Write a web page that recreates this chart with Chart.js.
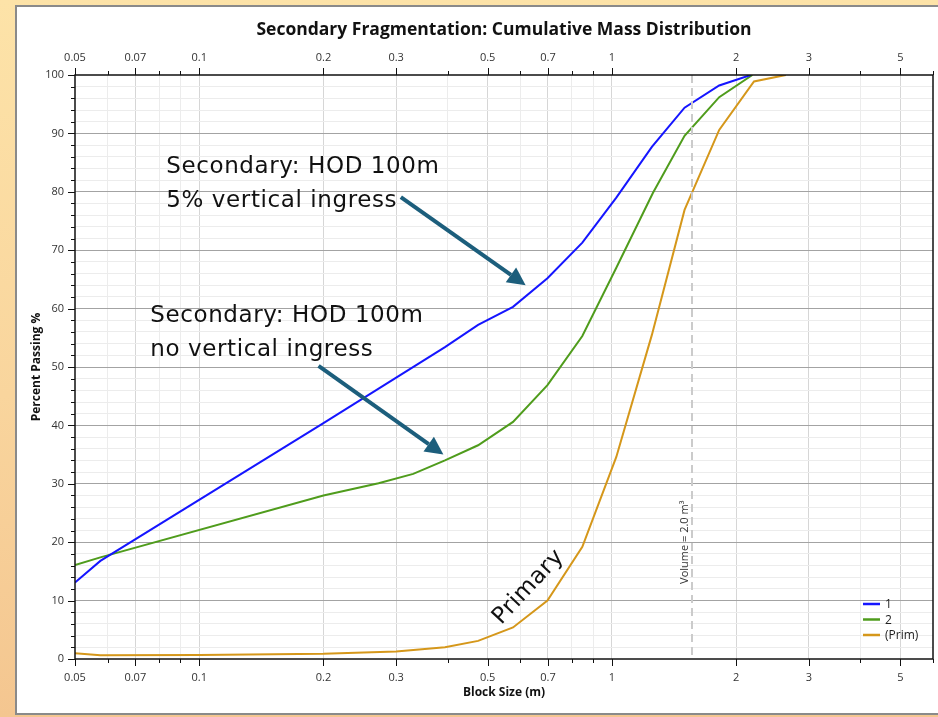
<!DOCTYPE html>
<html>
<head>
<meta charset="utf-8">
<title>Secondary Fragmentation</title>
<script src="https://cdn.jsdelivr.net/npm/chart.js@4.4.0/dist/chart.umd.min.js"></script>
<style>
  html, body { margin: 0; padding: 0; }
  body {
    width: 938px; height: 717px; overflow: hidden; position: relative;
    background: linear-gradient(180deg, #fde3a8 0%, #f9d59d 55%, #f4c690 100%);
  }
  #panel {
    position: absolute; left: 15px; top: 5px; width: 940px; height: 706px;
    background: #fff; border: 2px solid #8a8a8a;
  }
  #wrap { position: absolute; left: 0; top: 0; width: 938px; height: 717px; }
</style>
</head>
<body>
<div id="panel"></div>
<div id="wrap"><canvas id="fragChart"></canvas></div>
<script>
const FONT = "'Open Sans', sans-serif";
const NOTE_FONT = "'DejaVu Sans', sans-serif";

const TITLE = "Secondary Fragmentation: Cumulative Mass Distribution";

// block size (m) / percent passing for each curve
const sizes1 = [0.05, 0.0576, 0.2, 0.394, 0.474, 0.576, 0.698, 0.848, 1.025, 1.25, 1.5, 1.82, 2.17];
const passing1 = [13.1, 16.8, 40.4, 53.4, 57.2, 60.3, 65.2, 71.3, 79.0, 87.7, 94.4, 98.2, 100];

const sizes2 = [0.05, 0.0576, 0.2, 0.272, 0.33, 0.394, 0.474, 0.576, 0.698, 0.848, 1.025, 1.257, 1.5, 1.82, 2.19];
const passing2 = [16.1, 17.4, 28.0, 30.1, 31.7, 34.0, 36.6, 40.6, 46.9, 55.3, 67.0, 79.8, 89.6, 96.2, 100];

const sizesPrim = [0.05, 0.0576, 0.1, 0.2, 0.3, 0.394, 0.474, 0.576, 0.698, 0.848, 1.025, 1.25, 1.5, 1.82, 2.21, 2.64];
const passingPrim = [1.0, 0.65, 0.7, 0.9, 1.3, 2.0, 3.1, 5.4, 10.0, 19.2, 34.6, 55.5, 76.9, 90.6, 98.9, 100];

const seriesNames = ["1", "2", "(Prim)"];
const seriesColors = ["#1515ff", "#4f9c1c", "#d5971a"];

// axis ticks
const xTicks = [0.05, 0.06, 0.07, 0.08, 0.09, 0.1, 0.2, 0.3, 0.4, 0.5, 0.6, 0.7, 0.8, 0.9, 1, 2, 3, 4, 5, 6];
const xLabels = [0.05, 0.07, 0.1, 0.2, 0.3, 0.5, 0.7, 1, 2, 3, 5];

// equivalent sphere diameter of a 2.0 m3 block
const volumeSize = 1.563;

const toPoints = (xs, ys) => xs.map((v, i) => ({ x: v, y: ys[i] }));

const makeX = (position, height) => ({
  type: "logarithmic",
  position: position,
  min: 0.05,
  max: 6,
  afterBuildTicks: (s) => { s.ticks = xTicks.map(v => ({ value: v })); },
  // fixed band height, and no extra side padding for the end labels
  afterFit: (s) => { s.height = height; s.paddingLeft = 0; s.paddingRight = 0; },
  ticks: {
    autoSkip: false, maxRotation: 0, padding: 12, color: "#333",
    font: { family: FONT, size: 11 },
    callback: (v) => xLabels.includes(v) ? String(v) : ""
  },
  grid: {
    display: position === "bottom",
    drawTicks: false,
    color: (c) => {
      const v = c.tick && c.tick.value;
      if (v === 0.05 || v === 6) return "rgba(0,0,0,0)";
      return xLabels.includes(v) ? "#d6d6d6" : "#ececec";
    }
  },
  border: { display: false }
});

const x = makeX("bottom", 58);
x.title = {
  display: true, text: "Block Size (m)", color: "#111",
  font: { family: FONT, size: 12, weight: "bold" }, padding: { bottom: 17 }
};

// top band holds the chart title as well as the upper size labels
const x2 = makeX("top", 75);
x2.ticks.padding = 11;

const overlay = {
  id: "overlay",
  afterDatasetsDraw(chart) {
    const { ctx, chartArea: a } = chart;
    const sx = chart.scales.x, sy = chart.scales.y;
    const px = (v) => sx.getPixelForValue(v);
    const py = (v) => sy.getPixelForValue(v);
    const seg = (x1, y1, x2, y2) => { ctx.beginPath(); ctx.moveTo(x1, y1); ctx.lineTo(x2, y2); ctx.stroke(); };

    ctx.save();

    // title, centred over the plot area
    ctx.fillStyle = "#111";
    ctx.font = "bold 17.5px " + FONT;
    ctx.textAlign = "center";
    ctx.textBaseline = "middle";
    ctx.fillText(TITLE, (a.left + a.right) / 2, 30);

    // volume marker
    const vx = Math.round(px(volumeSize));
    ctx.strokeStyle = "#cbcbcb";
    ctx.lineWidth = 2;
    ctx.setLineDash([8, 5]);
    seg(vx, a.top, vx, a.bottom);
    ctx.setLineDash([]);
    ctx.save();
    ctx.translate(vx - 7, py(20));
    ctx.rotate(-Math.PI / 2);
    ctx.fillStyle = "#333";
    ctx.font = "11px " + FONT;
    ctx.textAlign = "center";
    ctx.textBaseline = "middle";
    ctx.fillText("Volume = 2.0 m³", 0, 0);
    ctx.restore();

    // frame and tick marks
    ctx.strokeStyle = "#111";
    ctx.lineWidth = 1.5;
    ctx.strokeRect(a.left, a.top, a.right - a.left, a.bottom - a.top);
    ctx.lineWidth = 1;
    xTicks.forEach(v => {
      const p = Math.round(px(v)) + 0.5;
      const len = xLabels.includes(v) ? 7 : 4;
      seg(p, a.bottom, p, a.bottom + len);
      seg(p, a.top, p, a.top - len);
    });
    for (let v = 0; v <= 100; v += 2) {
      const p = Math.round(py(v)) + 0.5;
      const len = v % 10 === 0 ? 7 : 4;
      seg(a.left - len, p, a.left, p);
    }

    // notes
    ctx.fillStyle = "#111";
    ctx.font = "23px " + NOTE_FONT;
    ctx.letterSpacing = "0.6px";
    ctx.textAlign = "left";
    ctx.textBaseline = "alphabetic";
    ctx.fillText("Secondary: HOD 100m", px(0.0832), py(83.2));
    ctx.fillText("5% vertical ingress", px(0.0832), py(77.4));
    ctx.fillText("Secondary: HOD 100m", px(0.0761), py(57.7));
    ctx.fillText("no vertical ingress", px(0.0761), py(51.9));

    ctx.save();
    ctx.translate(px(0.628), py(12.3));
    ctx.rotate(-47 * Math.PI / 180);
    ctx.textAlign = "center";
    ctx.textBaseline = "middle";
    ctx.fillText("Primary", 0, 0);
    ctx.restore();
    ctx.letterSpacing = "0px";

    // arrows
    const arrow = (x1, y1, x2, y2) => {
      const ang = Math.atan2(y2 - y1, x2 - x1);
      const head = 18, half = 9;
      const bx = x2 - head * Math.cos(ang), by = y2 - head * Math.sin(ang);
      seg(x1, y1, bx, by);
      ctx.beginPath();
      ctx.moveTo(x2, y2);
      ctx.lineTo(bx + half * Math.sin(ang), by - half * Math.cos(ang));
      ctx.lineTo(bx - half * Math.sin(ang), by + half * Math.cos(ang));
      ctx.closePath();
      ctx.fill();
    };
    ctx.strokeStyle = "#1c5e7c";
    ctx.fillStyle = "#1c5e7c";
    ctx.lineWidth = 4;
    arrow(px(0.308), py(79.1), px(0.618), py(64.0));
    arrow(px(0.1946), py(50.2), px(0.3905), py(35.0));

    // legend
    ctx.font = "12px " + FONT;
    ctx.textAlign = "left";
    ctx.textBaseline = "middle";
    ctx.lineWidth = 2.5;
    seriesNames.forEach((name, i) => {
      const ly = a.bottom - 55 + i * 15.5;
      ctx.strokeStyle = seriesColors[i];
      seg(a.right - 70, ly, a.right - 53, ly);
      ctx.fillStyle = "#222";
      ctx.fillText(name, a.right - 48, ly + 1);
    });

    ctx.restore();
  }
};

const chart = new Chart(document.getElementById("fragChart"), {
  type: "line",
  data: {
    datasets: [
      { label: seriesNames[0], data: toPoints(sizes1, passing1), borderColor: seriesColors[0] },
      { label: seriesNames[1], data: toPoints(sizes2, passing2), borderColor: seriesColors[1] },
      { label: seriesNames[2], data: toPoints(sizesPrim, passingPrim), borderColor: seriesColors[2] }
    ]
  },
  options: {
    responsive: true,
    maintainAspectRatio: false,
    animation: false,
    elements: {
      line: { borderWidth: 2, tension: 0 },
      point: { radius: 0 }
    },
    layout: { padding: { left: 0, right: 5, top: 0, bottom: 0 } },
    plugins: {
      legend: { display: false },
      tooltip: { enabled: false },
      title: { display: false }
    },
    scales: {
      x: x,
      x2: x2,
      y: {
        type: "linear",
        min: 0,
        max: 100,
        afterFit: (s) => { s.width = 75; },
        ticks: {
          stepSize: 2, autoSkip: false, padding: 11, color: "#333",
          font: { family: FONT, size: 11 },
          callback: (v) => v % 10 === 0 ? String(v) : ""
        },
        grid: {
          drawTicks: false,
          color: (c) => {
            const v = c.tick && c.tick.value;
            if (v === 0 || v === 100) return "rgba(0,0,0,0)";
            return v % 10 === 0 ? "#a3a3a3" : "#ececec";
          }
        },
        border: { display: false },
        title: {
          display: true, text: "Percent Passing %", color: "#111",
          font: { family: FONT, size: 12, weight: "bold" }, padding: { top: 29 }
        }
      }
    }
  },
  plugins: [overlay]
});
</script>
</body>
</html>
